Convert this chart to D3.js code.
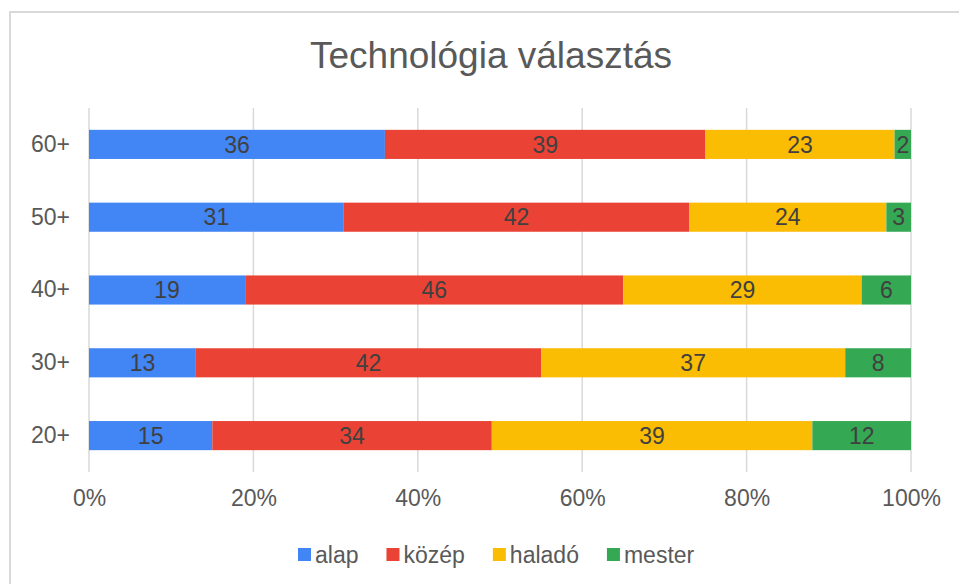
<!DOCTYPE html>
<html>
<head>
<meta charset="utf-8">
<script src="https://cdn.jsdelivr.net/npm/d3@7"></script>
<style>
  body { margin: 0; background: #fff; }
  svg { display: block; font-family: "Liberation Sans", Arial, sans-serif; }
</style>
</head>
<body>
<div id="chart"></div>
<script>
const categories = ["60+", "50+", "40+", "30+", "20+"];
const seriesNames = ["alap", "közép", "haladó", "mester"];
const alap   = [36, 31, 19, 13, 15];
const kozep  = [39, 42, 46, 42, 34];
const halado = [23, 24, 29, 37, 39];
const mester = [2, 3, 6, 8, 12];
const xTicks = [0, 20, 40, 60, 80, 100];
const colors = ["#4285F4", "#EA4335", "#FBBC04", "#34A853"];

const width = 959, height = 584;

const rows = categories.map((c, i) => ({
  cat: c, alap: alap[i], "közép": kozep[i], "haladó": halado[i], mester: mester[i]
}));

const svg = d3.select("#chart")
  .append("svg")
  .attr("width", width)
  .attr("height", height);

// chart frame
svg.append("rect")
  .attr("x", 10).attr("y", 12)
  .attr("width", 1000).attr("height", 700)
  .attr("fill", "none")
  .attr("stroke", "#d9d9d9")
  .attr("stroke-width", 2);

svg.append("text")
  .attr("x", 491).attr("y", 68)
  .attr("text-anchor", "middle")
  .style("font-size", "37px")
  .style("fill", "#595959")
  .text("Technológia választás");

const x = d3.scaleLinear().domain([0, 100]).range([89, 911]);
const y = d3.scaleBand().domain(categories).range([108, 472]).paddingInner(0.6).paddingOuter(0.3);

// gridlines
svg.append("g")
  .selectAll("line")
  .data(xTicks)
  .enter()
  .append("line")
  .attr("x1", d => x(d)).attr("x2", d => x(d))
  .attr("y1", 108).attr("y2", 472)
  .attr("stroke", "#d9d9d9")
  .attr("stroke-width", 1.5);

const stack = d3.stack().keys(seriesNames)(rows);

const layers = svg.append("g")
  .selectAll("g")
  .data(stack)
  .enter()
  .append("g")
  .attr("fill", (d, i) => colors[i]);

layers.selectAll("rect")
  .data(d => d)
  .enter()
  .append("rect")
  .attr("x", d => x(d[0]))
  .attr("width", d => x(d[1]) - x(d[0]))
  .attr("y", d => y(d.data.cat))
  .attr("height", y.bandwidth());

layers.selectAll("text")
  .data(d => d)
  .enter()
  .append("text")
  .attr("x", d => (x(d[0]) + x(d[1])) / 2)
  .attr("y", d => y(d.data.cat) + y.bandwidth() / 2)
  .attr("dy", "0.36em")
  .attr("text-anchor", "middle")
  .style("font-size", "23px")
  .style("fill", "#404040")
  .text(d => d[1] - d[0]);

// category axis
const yAxis = svg.append("g")
  .attr("transform", "translate(70,0)")
  .call(d3.axisLeft(y).tickSize(0).tickPadding(0));
yAxis.select(".domain").remove();
yAxis.selectAll("text")
  .style("font-size", "23px")
  .style("fill", "#595959")
  .style("font-family", "Liberation Sans, Arial, sans-serif");

// value axis
const xAxis = svg.append("g")
  .attr("transform", "translate(0,490)")
  .call(d3.axisBottom(x).tickValues(xTicks).tickFormat(d => d + "%").tickSize(0).tickPadding(0));
xAxis.select(".domain").remove();
xAxis.selectAll("text")
  .attr("dy", "0.71em")
  .style("font-size", "23px")
  .style("fill", "#595959")
  .style("font-family", "Liberation Sans, Arial, sans-serif");

// legend
const legend = svg.append("g");
let lx = 298;
seriesNames.forEach((name, i) => {
  const g = legend.append("g").attr("transform", `translate(${lx},0)`);
  g.append("rect")
    .attr("x", 0).attr("y", 548)
    .attr("width", 13).attr("height", 13)
    .attr("fill", colors[i]);
  const t = g.append("text")
    .attr("x", 17).attr("y", 555)
    .attr("dy", "0.36em")
    .style("font-size", "23px")
    .style("fill", "#595959")
    .text(name);
  lx += 17 + t.node().getComputedTextLength() + 28;
});
</script>
</body>
</html>
